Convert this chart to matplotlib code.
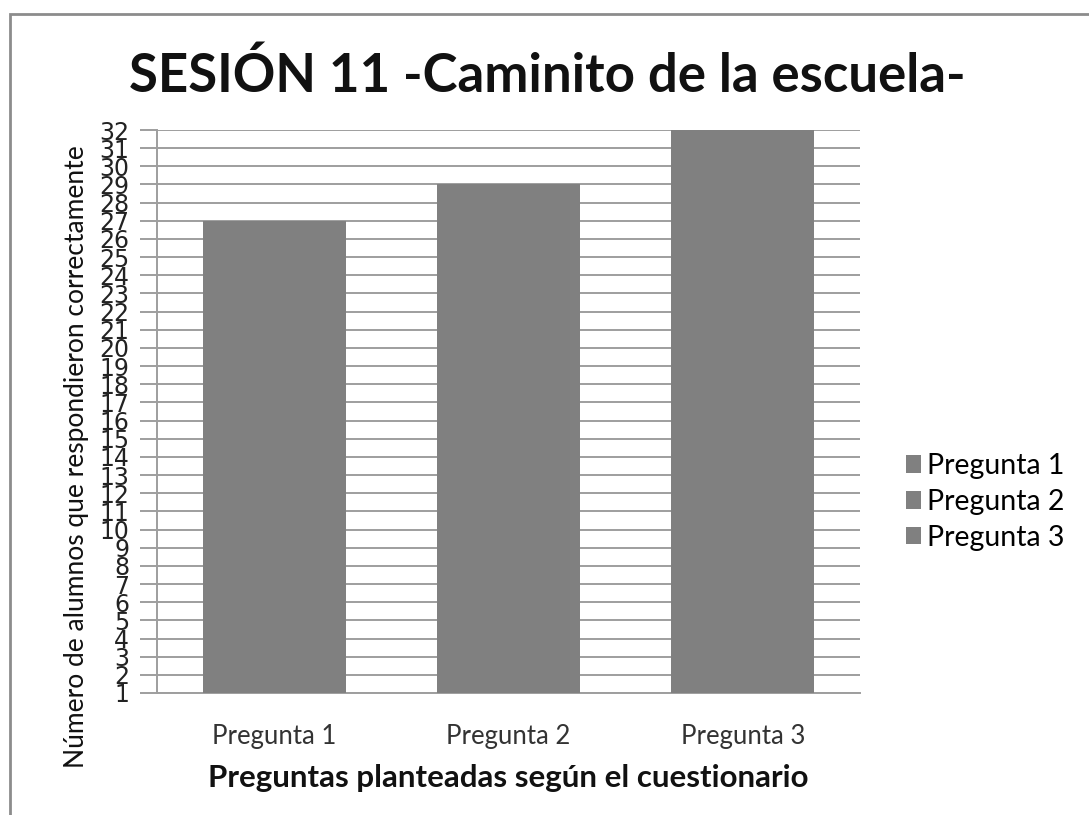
import matplotlib
matplotlib.use("Agg")
import matplotlib.pyplot as plt
from matplotlib.patches import Rectangle, Patch

categories = ["Pregunta 1", "Pregunta 2", "Pregunta 3"]
values = [27, 29, 32]
yticks = list(range(1, 33))
title = "SESIÓN 11 -Caminito de la escuela-"
ylabel = "Número de alumnos que respondieron correctamente"
xlabel = "Preguntas planteadas según el cuestionario"

W, H = 1089, 815
fig = plt.figure(figsize=(W / 100, H / 100), dpi=100)
fam = ["Lato", "DejaVu Sans"]

# outer border (left/top visible)
fig.patches.append(Rectangle((10 / W, -0.1), 1.2, 1 - 14 / H + 0.1, transform=fig.transFigure,
                             fill=False, edgecolor="#8c8c8c", linewidth=2))

ax = fig.add_axes([157 / W, 1 - 693 / H, (860 - 157) / W, (693 - 130) / H])
x = range(len(categories))
ax.bar(x, values, width=0.61, color="#808080", zorder=3)
ax.set_xlim(-0.5, 2.5)
ax.set_ylim(1, 32)
ax.set_yticks(yticks)
ax.set_yticklabels([str(t) for t in yticks], fontsize=17, family=["Liberation Sans Narrow", "DejaVu Sans"],
                   color="#222222")
ax.yaxis.grid(True, color="#9e9e9e", linewidth=1.4, zorder=0)
ax.tick_params(axis="y", length=12, width=1.4, color="#9e9e9e", pad=8)
ax.tick_params(axis="x", length=0, pad=22)
ax.set_xticks(list(x))
ax.set_xticklabels(categories, fontsize=18.5, family=fam, color="#333333")
for s in ["top", "right"]:
    ax.spines[s].set_visible(False)
ax.spines["left"].set_color("#9e9e9e")
ax.spines["left"].set_linewidth(1.4)
ax.spines["bottom"].set_color("#9e9e9e")
ax.spines["bottom"].set_linewidth(1.4)

ax.set_ylabel(ylabel, fontsize=19, family=fam, color="#111111")
ax.yaxis.set_label_coords(-0.097, 0.42)
ax.set_xlabel(xlabel, fontsize=22.5, family=fam, fontweight="bold", color="#111111", labelpad=11)

fig.text(547 / W, 1 - 76 / H, title, fontsize=38, family=fam, fontweight="bold",
         ha="center", va="center", color="#111111")

handles = [Patch(facecolor="#808080", edgecolor="none") for _ in categories]
fig.legend(handles, categories, loc="center left", bbox_to_anchor=(900 / W, 1 - 502 / H),
           frameon=False, prop={"family": fam, "size": 20.5},
           handlelength=0.55, handleheight=0.55, handletextpad=0.2, labelspacing=0.35,
           borderpad=0.2, borderaxespad=0)

fig.savefig("out.png", dpi=100)
